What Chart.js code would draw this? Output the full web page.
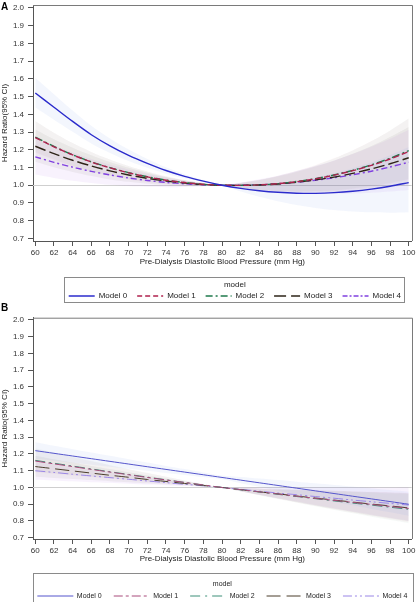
<!DOCTYPE html>
<html><head><meta charset="utf-8">
<script src="https://cdn.jsdelivr.net/npm/chart.js@4.4.1/dist/chart.umd.min.js"></script>
<style>
html,body{margin:0;padding:0;background:#fff;overflow:hidden;width:416px;height:602px;}
#wa{position:absolute;left:0;top:0;width:416px;height:305px;}
#wb{position:absolute;left:0;top:305px;width:416px;height:297px;}
.lab{position:absolute;left:1px;font:bold 10px "Liberation Sans",Arial,sans-serif;color:#000;}
</style></head><body>
<div id="wa"><canvas id="ca" width="416" height="305"></canvas></div>
<div id="wb"><canvas id="cb" width="416" height="297"></canvas></div>
<div class="lab" style="top:1px">A</div>
<div class="lab" style="top:302px">B</div>
<script>
const xVals = [60,62,64,66,68,70,72,74,76,78,80,82,84,86,88,90,92,94,96,98,100];
const xTicks = [60,62,64,66,68,70,72,74,76,78,80,82,84,86,88,90,92,94,96,98,100];
const yTicks = [0.7,0.8,0.9,1.0,1.1,1.2,1.3,1.4,1.5,1.6,1.7,1.8,1.9,2.0];
const modelNames = ['Model 0','Model 1','Model 2','Model 3','Model 4'];
const xTitle = 'Pre-Dialysis Diastolic Blood Pressure (mm Hg)';
const yTitle = 'Hazard Ratio(95% CI)';
const legendTitle = 'model';
const refValue = 1.0;

// Panel A: estimates, lower and upper 95% CI
const a0   = [1.520,1.440,1.360,1.285,1.222,1.168,1.123,1.083,1.050,1.023,1.000,0.982,0.969,0.960,0.955,0.954,0.958,0.966,0.978,0.994,1.015];
const a0lo = [1.439,1.370,1.302,1.236,1.182,1.136,1.098,1.065,1.039,1.017,1.000,0.964,0.935,0.910,0.889,0.872,0.860,0.852,0.847,0.845,0.848];
const a0hi = [1.606,1.513,1.421,1.335,1.263,1.201,1.148,1.101,1.062,1.029,1.000,1.000,1.005,1.013,1.026,1.044,1.067,1.096,1.129,1.169,1.215];
const a1   = [1.269,1.217,1.171,1.131,1.098,1.070,1.047,1.028,1.015,1.005,1.000,0.999,1.002,1.009,1.020,1.036,1.057,1.082,1.112,1.148,1.190];
const a1lo = [1.183,1.143,1.107,1.077,1.053,1.033,1.018,1.007,1.001,0.998,1.000,0.985,0.973,0.966,0.963,0.964,0.969,0.978,0.990,1.008,1.029];
const a1hi = [1.361,1.296,1.238,1.188,1.145,1.108,1.077,1.050,1.029,1.012,1.000,1.014,1.031,1.054,1.081,1.114,1.153,1.198,1.249,1.308,1.376];
const a2   = [1.272,1.219,1.172,1.132,1.099,1.071,1.048,1.029,1.015,1.005,1.000,0.999,1.002,1.009,1.021,1.037,1.058,1.084,1.115,1.152,1.195];
const a2lo = [1.188,1.147,1.110,1.079,1.055,1.035,1.020,1.008,1.001,0.998,1.000,0.985,0.974,0.968,0.965,0.967,0.972,0.982,0.995,1.013,1.035];
const a2hi = [1.362,1.296,1.238,1.188,1.145,1.108,1.077,1.050,1.029,1.012,1.000,1.013,1.030,1.052,1.080,1.112,1.151,1.196,1.248,1.309,1.378];
const a3   = [1.220,1.178,1.141,1.109,1.081,1.058,1.039,1.024,1.012,1.004,1.000,0.999,1.001,1.007,1.017,1.030,1.046,1.067,1.092,1.121,1.155];
const a3lo = [1.132,1.101,1.075,1.052,1.033,1.019,1.008,1.001,0.997,0.996,1.000,0.985,0.973,0.966,0.962,0.960,0.962,0.967,0.976,0.988,1.004];
const a3hi = [1.315,1.260,1.212,1.169,1.131,1.098,1.071,1.047,1.027,1.012,1.000,1.013,1.029,1.050,1.076,1.105,1.138,1.177,1.221,1.272,1.329];
const a4   = [1.160,1.129,1.102,1.078,1.058,1.041,1.027,1.016,1.008,1.003,1.000,1.000,1.003,1.008,1.017,1.028,1.042,1.059,1.079,1.103,1.130];
const a4lo = [1.060,1.041,1.025,1.012,1.002,0.995,0.991,0.989,0.990,0.994,1.000,0.985,0.973,0.964,0.958,0.954,0.952,0.953,0.957,0.964,0.973];
const a4hi = [1.269,1.224,1.184,1.148,1.117,1.089,1.065,1.044,1.026,1.012,1.000,1.015,1.034,1.054,1.080,1.108,1.140,1.176,1.217,1.262,1.313];

// Panel B
const b0   = [1.220,1.204,1.188,1.172,1.156,1.140,1.124,1.108,1.092,1.076,1.060,1.044,1.028,1.012,0.996,0.980,0.964,0.948,0.932,0.916,0.900];
const b0lo = [1.172,1.160,1.148,1.136,1.124,1.112,1.100,1.087,1.075,1.062,1.049,1.026,1.004,0.981,0.959,0.937,0.915,0.894,0.872,0.852,0.831];
const b0hi = [1.270,1.249,1.229,1.209,1.189,1.169,1.149,1.129,1.110,1.090,1.071,1.062,1.053,1.044,1.035,1.025,1.015,1.006,0.996,0.985,0.975];
const b1   = [1.158,1.141,1.125,1.108,1.092,1.076,1.060,1.045,1.030,1.015,1.000,0.987,0.974,0.961,0.948,0.935,0.923,0.911,0.899,0.887,0.875];
const b1lo = [1.091,1.081,1.072,1.062,1.053,1.044,1.035,1.026,1.018,1.009,1.000,0.977,0.955,0.933,0.911,0.889,0.869,0.849,0.830,0.811,0.792];
const b1hi = [1.230,1.204,1.180,1.156,1.132,1.109,1.086,1.064,1.042,1.021,1.000,0.997,0.994,0.990,0.987,0.983,0.980,0.977,0.974,0.971,0.967];
const b2   = [1.162,1.145,1.128,1.111,1.094,1.078,1.062,1.046,1.030,1.015,1.000,0.986,0.973,0.959,0.946,0.933,0.920,0.907,0.895,0.882,0.870];
const b2lo = [1.094,1.085,1.075,1.065,1.055,1.046,1.037,1.027,1.018,1.009,1.000,0.976,0.954,0.931,0.909,0.888,0.866,0.846,0.826,0.806,0.787];
const b2hi = [1.234,1.209,1.184,1.159,1.134,1.111,1.088,1.065,1.042,1.021,1.000,0.996,0.993,0.988,0.985,0.981,0.977,0.973,0.970,0.965,0.961];
const b3   = [1.125,1.112,1.099,1.086,1.073,1.061,1.048,1.036,1.024,1.012,1.000,0.987,0.974,0.962,0.949,0.937,0.925,0.913,0.901,0.890,0.878];
const b3lo = [1.064,1.057,1.051,1.044,1.038,1.032,1.025,1.019,1.013,1.006,1.000,0.978,0.955,0.935,0.913,0.893,0.873,0.854,0.834,0.816,0.798];
const b3hi = [1.190,1.169,1.149,1.129,1.110,1.091,1.072,1.054,1.036,1.018,1.000,0.997,0.993,0.990,0.986,0.983,0.980,0.976,0.973,0.970,0.966];
const b4   = [1.100,1.090,1.079,1.069,1.059,1.049,1.039,1.029,1.019,1.010,1.000,0.989,0.978,0.967,0.957,0.946,0.936,0.925,0.915,0.905,0.895];
const b4lo = [1.046,1.042,1.037,1.032,1.028,1.023,1.018,1.014,1.009,1.005,1.000,0.978,0.957,0.936,0.916,0.895,0.876,0.856,0.838,0.820,0.802];
const b4hi = [1.156,1.140,1.123,1.107,1.091,1.076,1.060,1.045,1.029,1.015,1.000,1.000,1.000,0.999,1.000,1.000,1.000,1.000,1.000,1.000,1.001];

Chart.defaults.font.family = '"Liberation Sans", Arial, Helvetica, sans-serif';
Chart.defaults.color = '#222';

function pts(arr){ return arr.map((y,i)=>({x:xVals[i], y:y})); }

function buildDatasets(est, lo, hi, st){
  const ds = [];
  for (let m=0;m<5;m++){
    ds.push({label:'lo'+m, data:pts(lo[m]), borderWidth:0, borderColor:'rgba(0,0,0,0)', pointRadius:0, fill:false, order:2, tension:0.3});
    ds.push({label:'hi'+m, data:pts(hi[m]), borderWidth:0, borderColor:'rgba(0,0,0,0)', pointRadius:0, fill:'-1', backgroundColor:st.band[m], order:2, tension:0.3});
  }
  for (let m=0;m<5;m++){
    ds.push({label:modelNames[m], data:pts(est[m]), borderColor:st.color[m], backgroundColor:'transparent',
      borderWidth:st.width, borderDash:st.dash[m], legendDash:st.ldash[m], pointRadius:0, fill:false, order:1, tension:0.3});
  }
  return ds;
}

function makeChart(id, est, lo, hi, st, p){
  const deco = {
    id:'deco'+id,
    afterLayout(chart){ chart.legend.left += p.dx; chart.legend.right += p.dx; },
    beforeDatasetsDraw(chart){
      const ctx = chart.ctx, a = chart.chartArea, y = chart.scales.y.getPixelForValue(refValue);
      ctx.save(); ctx.strokeStyle = '#cfcfcf'; ctx.lineWidth = 1;
      ctx.beginPath(); ctx.moveTo(a.left, Math.round(y)+0.5); ctx.lineTo(a.right, Math.round(y)+0.5); ctx.stroke(); ctx.restore();
    },
    afterDraw(chart){
      const ctx = chart.ctx, a = chart.chartArea;
      ctx.save(); ctx.strokeStyle = '#7a7a7a'; ctx.lineWidth = 1;
      ctx.beginPath(); ctx.moveTo(a.left, a.top+0.5); ctx.lineTo(Math.round(a.right)+0.5, a.top+0.5);
      ctx.lineTo(Math.round(a.right)+0.5, a.bottom); ctx.stroke();
      const lg = chart.legend, hb = lg.legendHitBoxes;
      let l = Infinity, r = -Infinity;
      hb.forEach(h=>{ l = Math.min(l, h.left); r = Math.max(r, h.left + h.width); });
      ctx.strokeStyle = '#8a8a8a';
      ctx.strokeRect(Math.round(l - p.boxPadL)+0.5, Math.round(lg.top)+0.5, Math.round(r - l + p.boxPadL + p.boxPadR), Math.round(p.boxH));
      ctx.restore();
    }
  };
  return new Chart(document.getElementById(id), {
    type:'line',
    data:{ datasets: buildDatasets(est, lo, hi, st) },
    options:{
      responsive:false, animation:false, events:[],
      layout:{ padding:{ left:0, right:4.3, top:p.top, bottom:0 } },
      plugins:{
        tooltip:{enabled:false},
        legend:{
          position:'bottom', maxHeight:p.legendH,
          labels:{ usePointStyle:true, pointStyle:'line', pointStyleWidth:p.boxW, boxWidth:p.boxW, padding:p.lpad,
                   font:{size:p.lfont}, color:'#222',
                   generateLabels:(chart)=>chart.data.datasets.map((d,i)=>({
                     text:d.label, datasetIndex:i, strokeStyle:d.borderColor, fillStyle:'rgba(0,0,0,0)',
                     lineWidth:d.borderWidth, lineDash:d.legendDash || [], lineCap:'butt', pointStyle:'line', rotation:0, hidden:false, fontColor:'#222'
                   })),
                   filter:(it)=>it.text.startsWith('Model') },
          title:{ display:true, text:legendTitle, font:{size:p.lfont}, color:'#222', padding:{top:p.ltTop, bottom:p.ltBot} }
        }
      },
      scales:{
        x:{ type:'linear', min:59.754, max:100.32,
            afterBuildTicks:(s)=>{ s.ticks = xTicks.map(v=>({value:v})); },
            afterFit:(s)=>{ s.height = p.xH; s.paddingLeft = 0; s.paddingRight = 0; },
            ticks:{ font:{size:8}, color:'#333', padding:2, maxRotation:0, autoSkip:false, callback:(v)=>String(v) },
            grid:{ display:true, drawOnChartArea:false, drawTicks:true, tickLength:5, tickColor:'#555' },
            border:{ display:true, color:'#555' },
            title:{ display:true, text:xTitle, font:{size:8}, color:'#222', padding:{top:0, bottom:p.xtBot} } },
        y:{ type:'linear', min:p.ymin, max:p.ymax,
            afterBuildTicks:(s)=>{ s.ticks = yTicks.map(v=>({value:v})); },
            afterFit:(s)=>{ s.width = 33; s.paddingTop = 0; s.paddingBottom = 0; },
            ticks:{ font:{size:8}, color:'#333', padding:4, autoSkip:false, callback:(v)=>Number(v).toFixed(1) },
            grid:{ display:true, drawOnChartArea:false, drawTicks:true, tickLength:5, tickColor:'#555' },
            border:{ display:true, color:'#555' },
            title:{ display:true, text:yTitle, font:{size:8}, color:'#222', padding:{top:0, bottom:0} } }
      }
    },
    plugins:[deco]
  });
}

const styleA = {
  color:['#2b2bcc','#b0224e','#1f7a4c','#2e2418','#8040e0'],
  band:['rgba(120,160,235,0.09)','rgba(200,70,110,0.045)','rgba(40,140,90,0.045)','rgba(90,80,70,0.07)','rgba(170,90,235,0.08)'],
  dash:[[],[6,3],[8,3,2,3],[11,4],[6,3,2,3]],
  ldash:[[],[5,3],[7,3,2,3],[12,5],[5,2,2,2]],
  width:1.4
};
const styleB = {
  color:['#5555cc','#a84a7a','#3d8f78','#4a3d2a','#9a86e6'],
  band:['rgba(120,160,235,0.09)','rgba(200,70,110,0.045)','rgba(40,140,90,0.045)','rgba(90,80,70,0.07)','rgba(170,90,235,0.08)'],
  dash:[[],[10,3,4,3],[10,4,2,4],[14,6],[10,3,2,3,2,3]],
  ldash:[[],[9,3,3,3],[10,5,2,5],[14,6],[9,3,2,3,2,3]],
  width:1
};

makeChart('ca', [a0,a1,a2,a3,a4], [a0lo,a1lo,a2lo,a3lo,a4lo], [a0hi,a1hi,a2hi,a3hi,a4hi], styleA,
  { top:5, ymin:0.6853, ymax:2.0169, xH:36, xtBot:10, legendH:28, boxW:26, lpad:10, lfont:8, ltTop:4, ltBot:-8.6, dx:29, boxPadL:4.5, boxPadR:3.5, boxH:24.5 });
makeChart('cb', [b0,b1,b2,b3,b4], [b0lo,b1lo,b2lo,b3lo,b4lo], [b0hi,b1hi,b2hi,b3hi,b4hi], styleB,
  { top:12.7, ymin:0.6925, ymax:2.0137, xH:34, xtBot:9.2, legendH:29, boxW:36, lpad:12, lfont:7, ltTop:7.5, ltBot:-8.4, dx:16.5, boxPadL:4, boxPadR:6, boxH:28.5 });
</script>
</body></html>
